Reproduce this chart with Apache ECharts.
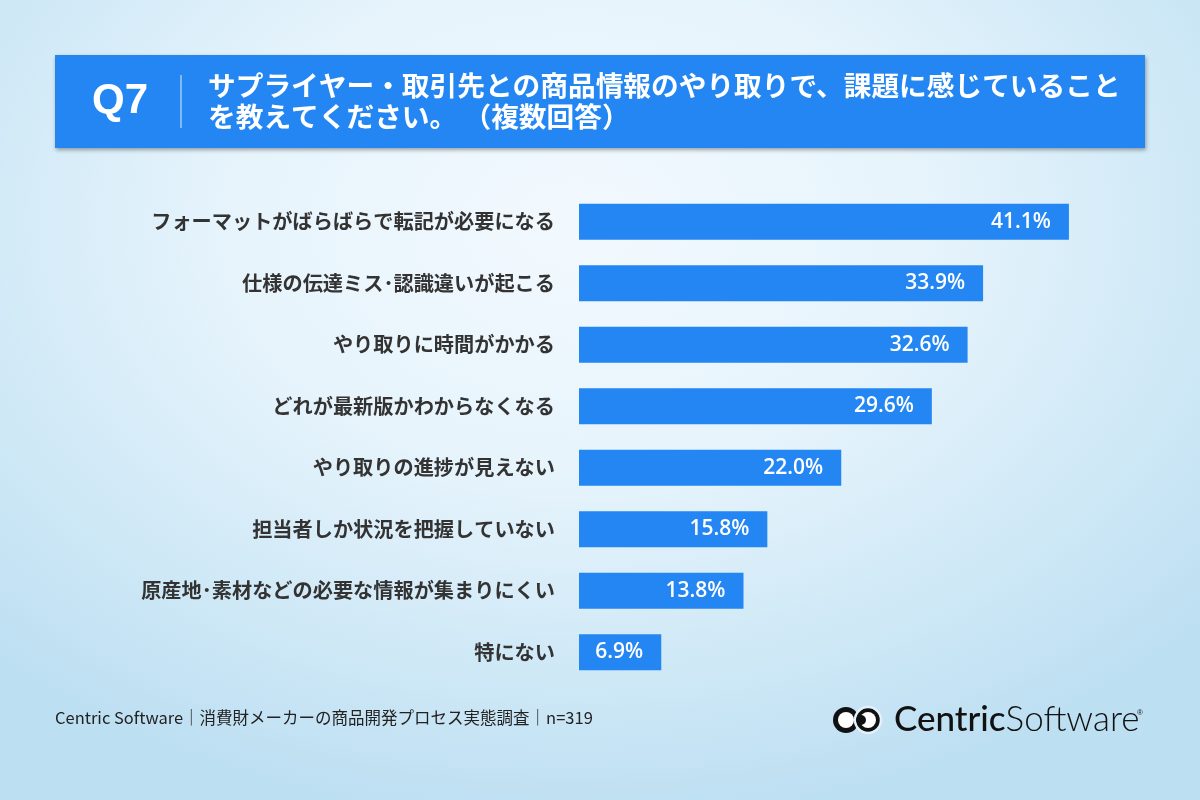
<!DOCTYPE html>
<html>
<head>
<meta charset="utf-8">
<script src="https://cdn.jsdelivr.net/npm/echarts@6/dist/echarts.min.js"></script>
<style>
  html, body { margin: 0; padding: 0; }
  #main {
    width: 1200px; height: 800px;
    background: radial-gradient(ellipse 70% 75% at 48% 28%, #f2f9fe 0%, #e7f4fc 40%, #d2eaf7 70%, #bddff2 100%);
  }
</style>
</head>
<body>
<div id="main"></div>
<script>
// 設問と回答データ
var questionNo = 'Q7';
var titleLines = ['サプライヤー・取引先との商品情報のやり取りで、課題に感じていること', 'を教えてください。 （複数回答）'];
var categories = [
  'フォーマットがばらばらで転記が必要になる',
  '仕様の伝達ミス･認識違いが起こる',
  'やり取りに時間がかかる',
  'どれが最新版かわからなくなる',
  'やり取りの進捗が見えない',
  '担当者しか状況を把握していない',
  '原産地･素材などの必要な情報が集まりにくい',
  '特にない'
];
var values = [41.1, 33.9, 32.6, 29.6, 22.0, 15.8, 13.8, 6.9];
var footnote = 'Centric Software｜消費財メーカーの商品開発プロセス実態調査｜n=319';

var blue = '#2386f2';
var jp = '"Noto Sans CJK JP", "Noto Sans", sans-serif';

var myChart = echarts.init(document.getElementById('main'));

myChart.setOption({
  animation: false,
  grid: {
    left: 579,
    right: 25,
    top: 191,
    height: 492
  },
  xAxis: {
    type: 'value',
    min: 0,
    max: 50,
    show: false
  },
  yAxis: {
    type: 'category',
    inverse: true,
    data: categories,
    axisLine: { show: false },
    axisTick: { show: false },
    axisLabel: {
      margin: 24,
      fontFamily: jp,
      fontSize: 20.2,
      fontWeight: 'bold',
      color: '#333333'
    }
  },
  series: [
    {
      name: '課題',
      type: 'bar',
      data: values,
      barWidth: 36,
      itemStyle: { color: blue },
      label: {
        show: true,
        position: 'insideRight',
        distance: 18,
        formatter: function (p) { return p.value.toFixed(1) + '%'; },
        fontFamily: '"Open Sans", "Noto Sans", sans-serif',
        fontWeight: 600,
        fontSize: 21,
        color: '#ffffff'
      }
    }
  ],
  graphic: [
    // ヘッダー
    {
      type: 'rect',
      shape: { x: 55, y: 55, width: 1090, height: 93 },
      style: { fill: blue, shadowBlur: 4, shadowOffsetX: 1, shadowOffsetY: 2, shadowColor: 'rgba(0,0,0,0.35)' },
      z: 10
    },
    {
      type: 'text',
      x: 120, y: 101,
      style: {
        text: questionNo, fill: '#fff', align: 'center', verticalAlign: 'middle',
        font: 'bold 42px "Liberation Sans", Arial, sans-serif'
      },
      z: 11
    },
    {
      type: 'line',
      shape: { x1: 181, y1: 75, x2: 181, y2: 128 },
      style: { stroke: 'rgba(255,255,255,0.85)', lineWidth: 1 },
      z: 11
    },
    {
      type: 'text',
      x: 208, y: 85,
      style: {
        text: titleLines[0], fill: '#fff', verticalAlign: 'middle',
        font: 'bold 27.7px "Noto Sans CJK JP", sans-serif'
      },
      z: 11
    },
    {
      type: 'text',
      x: 208, y: 116,
      style: {
        text: titleLines[1], fill: '#fff', verticalAlign: 'middle',
        font: 'bold 27.7px "Noto Sans CJK JP", sans-serif'
      },
      z: 11
    },
    // フッター
    {
      type: 'text',
      x: 55, y: 718,
      style: {
        text: footnote, fill: '#222', verticalAlign: 'middle',
        font: '16.5px "Noto Sans CJK JP", sans-serif'
      },
      z: 11
    },
    // ロゴ
    {
      type: 'circle', shape: { cx: 846, cy: 720, r: 13 },
      style: { fill: '#111' }, z: 11
    },
    {
      type: 'circle', shape: { cx: 846, cy: 720, r: 8 },
      style: { fill: '#fff' }, z: 11
    },
    {
      type: 'circle', shape: { cx: 868, cy: 720, r: 13 },
      style: { fill: '#111', stroke: '#e3f1fa', lineWidth: 2.5 }, z: 12
    },
    {
      type: 'circle', shape: { cx: 868, cy: 720, r: 8 },
      style: { fill: '#fff' }, z: 12
    },
    {
      type: 'circle', shape: { cx: 861, cy: 720, r: 5 },
      style: { fill: '#111' }, z: 13
    },
    {
      type: 'text',
      x: 894, y: 720,
      style: {
        text: '{a|Centric}{b|Software}', verticalAlign: 'middle',
        rich: {
          a: { fontFamily: 'Lato, sans-serif', fontSize: 35, fontWeight: 500, fill: '#111', color: '#111' },
          b: { fontFamily: 'Lato, sans-serif', fontSize: 35, fontWeight: 300, fill: '#111', color: '#111' }
        }
      },
      z: 11
    },
    {
      type: 'text',
      x: 1137, y: 713,
      style: { text: '®', fill: '#222', verticalAlign: 'middle', font: '8px sans-serif' },
      z: 11
    }
  ]
});
</script>
</body>
</html>
